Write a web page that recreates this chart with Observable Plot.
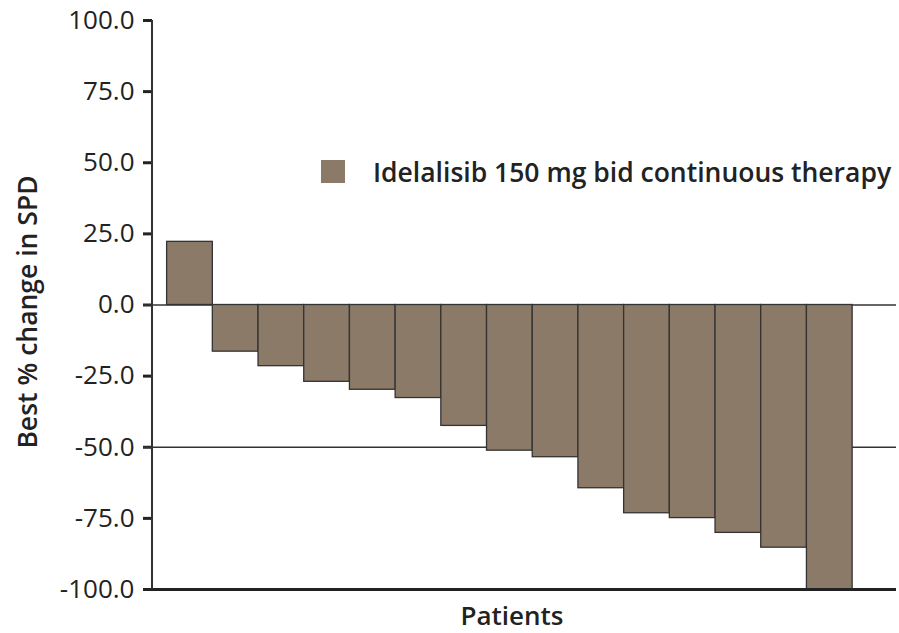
<!DOCTYPE html>
<html>
<head>
<meta charset="utf-8">
<script src="https://cdn.jsdelivr.net/npm/d3@7"></script>
<script src="https://cdn.jsdelivr.net/npm/@observablehq/plot@0.6"></script>
<style>
  html, body { margin: 0; padding: 0; background: #fff; }
  #chart { width: 899px; height: 633px; }
</style>
</head>
<body>
<div id="chart"></div>
<script>
// Data
const patients = ["1","2","3","4","5","6","7","8","9","10","11","12","13","14","15"];
const bestChange = [22.2, -16.4, -21.5, -27.0, -29.8, -32.7, -42.5, -51.2, -53.5, -64.4, -73.2, -74.9, -80.1, -85.3, -100.0];
const yTicks = [100, 75, 50, 25, 0, -25, -50, -75, -100];
const refLines = [0, -50];
const baseLine = [-100];
const seriesLabel = "Idelalisib 150 mg bid continuous therapy";
const yLabel = "Best % change in SPD";
const xLabel = "Patients";

const data = patients.map((p, i) => ({patient: p, change: bestChange[i]}));

const barFill = "#8b7a68";
const ink = "#222";
const font = "'Open Sans', sans-serif";

const plot = Plot.plot({
  width: 899,
  height: 633,
  marginLeft: 152,
  marginRight: 3,
  marginTop: 20,
  marginBottom: 44,
  style: {fontFamily: font, color: ink, background: "#fff"},
  x: {domain: patients, paddingInner: 0, paddingOuter: 0.64, align: 0.25, round: false, axis: null},
  y: {domain: [-100, 100]},
  marks: [
    Plot.axisY(yTicks, {
      tickFormat: d => d.toFixed(1),
      tickSize: 9,
      tickPadding: 9,
      fontSize: 26,
      fontWeight: 500,
      label: null
    }),
    // bold tick marks
    Plot.ruleY(yTicks, {stroke: "#222", strokeWidth: 3, insetLeft: -9, insetRight: 744}),
    Plot.ruleY(refLines, {stroke: "#333", strokeWidth: 1.5, insetLeft: -9}),
    Plot.barY(data, {x: "patient", y: "change", fill: barFill, stroke: "#333", strokeWidth: 1.3}),
    Plot.ruleY(baseLine, {stroke: "#222", strokeWidth: 3, insetLeft: -9})
  ]
});

document.getElementById("chart").appendChild(plot);

const svg = d3.select(plot);
const y = plot.scale("y");
// vertical axis line
svg.append("line")
  .attr("x1", 152).attr("x2", 152)
  .attr("y1", y.apply(100)).attr("y2", y.apply(-100))
  .attr("stroke", "#333").attr("stroke-width", 2);

// y label
svg.append("text")
  .attr("transform", "translate(37,312) rotate(-90)")
  .attr("text-anchor", "middle")
  .attr("font-size", 26.5).attr("font-weight", 600)
  .attr("fill", ink)
  .text(yLabel);

// x label
svg.append("text")
  .attr("x", 512).attr("y", 625)
  .attr("text-anchor", "middle")
  .attr("font-size", 26).attr("font-weight", 600)
  .attr("fill", ink)
  .text(xLabel);

// legend
svg.append("rect")
  .attr("x", 321).attr("y", 160).attr("width", 24).attr("height", 23)
  .attr("fill", barFill);
svg.append("text")
  .attr("x", 373).attr("y", 182)
  .attr("text-anchor", "start")
  .attr("font-size", 26.5).attr("font-weight", 600)
  .attr("fill", ink)
  .text(seriesLabel);
</script>
</body>
</html>
